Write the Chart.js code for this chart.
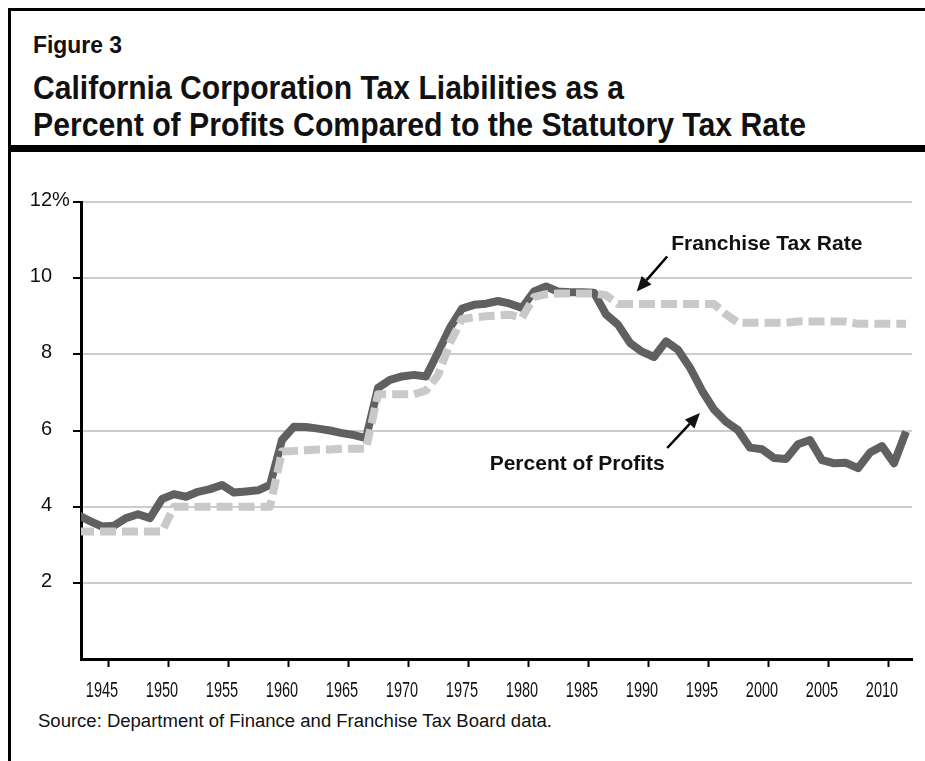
<!DOCTYPE html>
<html>
<head>
<meta charset="utf-8">
<script src="https://cdn.jsdelivr.net/npm/chart.js@4.4.0/dist/chart.umd.min.js"></script>
<style>
  body { margin: 0; width: 925px; height: 761px; background: #fff; overflow: hidden; position: relative; font-family: "Liberation Sans", Arial, sans-serif; color: #111; }
  .bar { position: absolute; background: #000; }
  .txt { position: absolute; white-space: nowrap; line-height: 1; transform-origin: left top; }
  #chartBox { position: absolute; left: 0; top: 160px; width: 925px; height: 560px; }
</style>
</head>
<body>
<div class="bar" style="left:8px;top:8px;width:917px;height:3px"></div>
<div class="bar" style="left:8px;top:8px;width:3px;height:753px"></div>
<div class="bar" style="left:8px;top:145px;width:917px;height:7px"></div>

<div class="txt fit" data-w="89" style="left:33px;top:34px;font-size:23px;font-weight:bold">Figure 3</div>
<div class="txt fit" data-w="591" style="left:33px;top:71px;font-size:33px;font-weight:bold">California Corporation Tax Liabilities as a</div>
<div class="txt fit" data-w="773" style="left:33px;top:108px;font-size:33px;font-weight:bold">Percent of Profits Compared to the Statutory Tax Rate</div>
<div class="txt fit" data-w="514" style="left:38px;top:712px;font-size:18px">Source: Department of Finance and Franchise Tax Board data.</div>

<div id="chartBox"><canvas id="myChart"></canvas></div>

<script>
// data, one value per year 1943-2012
const years = [];
for (let yr = 1943; yr <= 2012; yr++) years.push(yr);

const percentOfProfits = [
  3.78, 3.62, 3.48, 3.50, 3.70, 3.80, 3.70, 4.20, 4.33, 4.26,
  4.39, 4.46, 4.57, 4.37, 4.40, 4.43, 4.57, 5.75, 6.10, 6.09,
  6.05, 6.00, 5.93, 5.88, 5.80, 7.12, 7.33, 7.42, 7.46, 7.42,
  8.05, 8.70, 9.20, 9.30, 9.33, 9.40, 9.33, 9.22, 9.65, 9.78,
  9.65, 9.63, 9.63, 9.62, 9.05, 8.78, 8.30, 8.07, 7.93, 8.34,
  8.12, 7.65, 7.05, 6.55, 6.23, 6.01, 5.55, 5.51, 5.28, 5.25,
  5.64, 5.75, 5.22, 5.14, 5.15, 5.01, 5.42, 5.59, 5.14, 5.97
];

const franchiseTaxRate = [
  3.35, 3.35, 3.35, 3.35, 3.35, 3.35, 3.35, 3.35, 4.00, 4.00,
  4.00, 4.00, 4.00, 4.00, 4.00, 4.00, 4.00, 5.45, 5.46, 5.48,
  5.50, 5.50, 5.52, 5.52, 5.52, 6.95, 6.95, 6.95, 6.95, 7.05,
  7.45, 8.30, 8.93, 8.97, 9.00, 9.02, 9.04, 8.96, 9.50, 9.58,
  9.60, 9.60, 9.60, 9.60, 9.55, 9.32, 9.32, 9.32, 9.32, 9.32,
  9.32, 9.32, 9.32, 9.32, 9.05, 8.83, 8.83, 8.83, 8.83, 8.83,
  8.86, 8.86, 8.86, 8.86, 8.86, 8.80, 8.80, 8.80, 8.80, 8.80
];

const yTicks = [2, 4, 6, 8, 10, 12];
const xTickYears = [1945, 1950, 1955, 1960, 1965, 1970, 1975, 1980, 1985, 1990, 1995, 2000, 2005, 2010];

// stretch header text to the widths in the original
document.querySelectorAll(".fit").forEach((el) => {
  const w = el.getBoundingClientRect().width;
  el.style.transform = "scaleX(" + (el.dataset.w / w) + ")";
});

const FONT = '"Liberation Sans", Arial, sans-serif';

const drawArrow = (ctx, x1, y1, x2, y2) => {
  const a = Math.atan2(y2 - y1, x2 - x1);
  const len = 15, half = 6.5;
  const bx = x2 - len * Math.cos(a), by = y2 - len * Math.sin(a);
  ctx.beginPath();
  ctx.moveTo(x1, y1);
  ctx.lineTo(bx, by);
  ctx.stroke();
  ctx.beginPath();
  ctx.moveTo(x2, y2);
  ctx.lineTo(bx + half * Math.sin(a), by - half * Math.cos(a));
  ctx.lineTo(bx - half * Math.sin(a), by + half * Math.cos(a));
  ctx.closePath();
  ctx.fill();
};

const labelPlugin = {
  id: "labels",
  afterDraw(chart) {
    const { ctx, scales: { x, y } } = chart;
    ctx.save();
    ctx.fillStyle = "#111";
    ctx.strokeStyle = "#000";

    // y tick labels, digits right aligned, % hanging out
    ctx.font = "20px " + FONT;
    ctx.textBaseline = "middle";
    yTicks.forEach((v) => {
      const py = y.getPixelForValue(v) - 1.5;
      ctx.textAlign = "right";
      ctx.fillText(String(v), 52, py);
      if (v === 12) {
        ctx.textAlign = "left";
        ctx.fillText("%", 52, py);
      }
    });

    // x tick labels, condensed
    ctx.font = "22px " + FONT;
    ctx.textBaseline = "alphabetic";
    ctx.textAlign = "center";
    xTickYears.forEach((yr) => {
      ctx.save();
      ctx.translate(x.getPixelForValue(yr), y.bottom + 38);
      ctx.scale(0.66, 1);
      ctx.fillText(String(yr), 0, 0);
      ctx.restore();
    });

    // callouts
    ctx.font = "bold 21px " + FONT;
    ctx.fillText("Franchise Tax Rate", x.getPixelForValue(2000.4), y.getPixelForValue(10.75));
    ctx.fillText("Percent of Profits", x.getPixelForValue(1984.6), y.getPixelForValue(4.96));
    ctx.lineWidth = 2.5;
    drawArrow(ctx, x.getPixelForValue(1992.1), y.getPixelForValue(10.57), x.getPixelForValue(1989.56), y.getPixelForValue(9.65));
    drawArrow(ctx, x.getPixelForValue(1992.1), y.getPixelForValue(5.54), x.getPixelForValue(1994.83), y.getPixelForValue(6.46));
    ctx.restore();
  },
};

const toPoints = (vals) => years.map((yr, i) => ({ x: yr, y: vals[i] }));

new Chart(document.getElementById("myChart"), {
  type: "line",
  data: {
    datasets: [
      {
        label: "Franchise Tax Rate",
        data: toPoints(franchiseTaxRate),
        borderColor: "#c9c9c9",
        borderWidth: 8,
        borderDash: [16, 6],
        borderCapStyle: "butt",
        borderJoinStyle: "round",
        pointRadius: 0,
        tension: 0,
        clip: 0,
      },
      {
        label: "Percent of Profits",
        data: toPoints(percentOfProfits),
        borderColor: "#606060",
        borderWidth: 8,
        borderJoinStyle: "round",
        pointRadius: 0,
        tension: 0,
        clip: 0,
      },
    ],
  },
  options: {
    responsive: true,
    maintainAspectRatio: false,
    animation: false,
    layout: { padding: { left: 0, top: 42, right: 13, bottom: 31 } },
    plugins: { legend: { display: false }, tooltip: { enabled: false } },
    scales: {
      x: {
        type: "linear",
        min: 1943.25,
        max: 2012.5,
        afterBuildTicks: (s) => { s.ticks = xTickYears.map((yr) => ({ value: yr + 0.5 })); },
        afterFit: (s) => { s.height = 30; },
        ticks: { display: false },
        grid: { drawOnChartArea: false, drawTicks: true, tickLength: 8, tickColor: "#000", tickWidth: 2 },
        border: { color: "#000", width: 3 },
      },
      y: {
        min: 0,
        max: 12,
        afterBuildTicks: (s) => { s.ticks = [0, ...yTicks].map((v) => ({ value: v })); },
        afterFit: (s) => { s.width = 81; },
        ticks: { display: false },
        grid: {
          color: (c) => (c.tick && c.tick.value === 0 ? "rgba(0,0,0,0)" : "#cccccc"),
          lineWidth: 2,
          tickLength: 8,
          tickColor: (c) => (c.tick && c.tick.value === 0 ? "rgba(0,0,0,0)" : "#000"),
          tickWidth: 2,
        },
        border: { color: "#000", width: 3 },
      },
    },
  },
  plugins: [labelPlugin],
});
</script>
</body>
</html>
